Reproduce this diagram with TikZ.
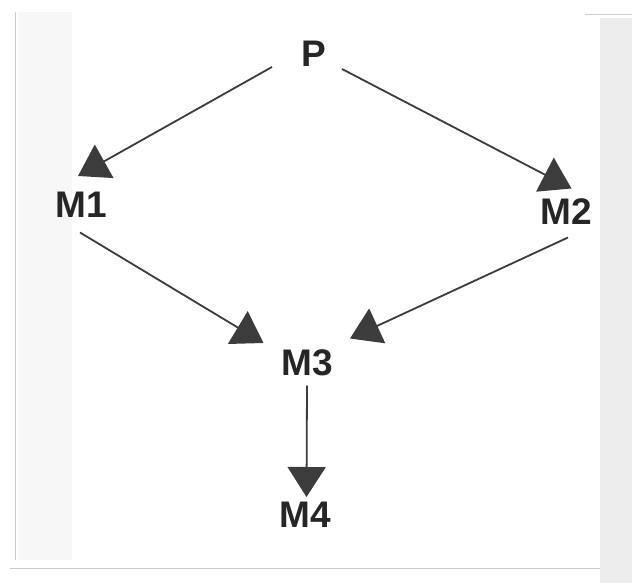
\documentclass[tikz,border=0pt]{standalone}
\usepackage{fontspec}
\setmainfont{Liberation Sans}
\usetikzlibrary{arrows.meta,calc}
\definecolor{ink}{HTML}{262626}
\definecolor{lineink}{HTML}{3C3C3C}
\definecolor{bandR}{HTML}{EDEDED}
\definecolor{bandL}{HTML}{F7F7F7}
\definecolor{edge}{HTML}{CCCCCC}
\tikzset{
  lbl/.style={inner sep=0pt, text=ink, font=\fontsize{37}{40}\selectfont\bfseries},
  conn/.style={draw=lineink, line width=1.8pt,
    -{Triangle[width=38pt,length=30pt,fill=lineink]}}
}
\begin{document}
\begin{tikzpicture}[x=1pt,y=-1pt]
  % canvas and scan margins
  \fill[white] (0,0) rectangle (632,583);
  \useasboundingbox (0,0) rectangle (632,583);
  \fill[bandL] (18,12) rectangle (72,560);
  \fill[bandR] (600,18) rectangle (632,583);
  \draw[edge, line width=0.8pt] (15,12) -- (15,560);
  \draw[edge, line width=0.6pt] (10,568) -- (600,568);
  \draw[edge, line width=1pt] (585,15) -- (632,15);

  % nodes
  \node[lbl] (P)  at (313.5,53.5) {P};
  \node[lbl] (M1) at (81,205)     {M1};
  \node[lbl] (M2) at (566,212)    {M2};
  \node[lbl] (M3) at (307.5,363)  {M3};
  \node[lbl] (M4) at (305,515)    {M4};

  % connectors
  \draw[conn] ([shift={(-41.5,13.5)}]P.center) -- ([shift={(-3,-29)}]M1.center);
  \draw[conn] ([shift={(28.5,15.5)}]P.center) -- ([shift={(5.5,-23.5)}]M2.center);
  \draw[conn] ([shift={(-1,27.5)}]M1.center) -- ([shift={(-44,-20)}]M3.center);
  \draw[conn] ([shift={(2,25.5)}]M2.center) -- ([shift={(42.5,-24.5)}]M3.center);
  \draw[conn] ([shift={(-0.5,22.5)}]M3.center) -- ([shift={(1.5,-18)}]M4.center);
\end{tikzpicture}
\end{document}
